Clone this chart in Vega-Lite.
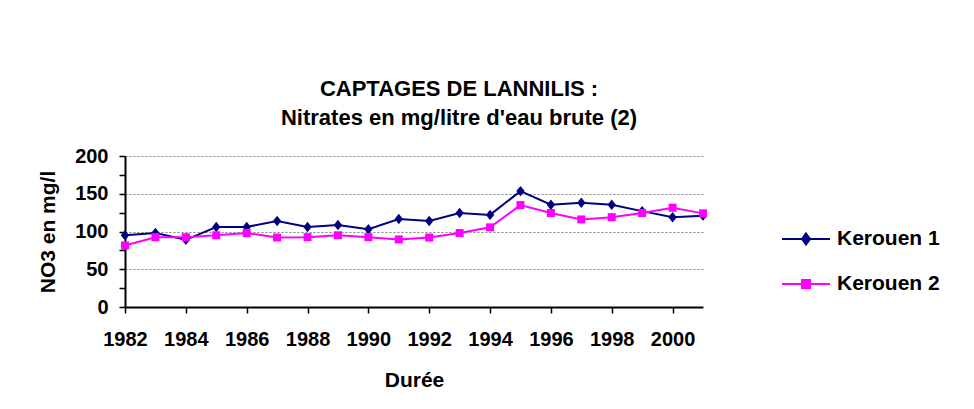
{
  "$schema": "https://vega.github.io/schema/vega-lite/v6.json",
  "width": 578,
  "height": 151,
  "autosize": {"type": "none"},
  "padding": {"left": 125, "top": 156, "right": 271, "bottom": 102},
  "background": "white",
  "config": {
    "font": "Liberation Sans",
    "view": {"stroke": null},
    "legend": {"padding": 0}
  },
  "title": {
    "text": ["CAPTAGES DE LANNILIS :", "Nitrates en mg/litre d'eau brute (2)"],
    "font": "Liberation Sans",
    "fontSize": 22,
    "fontWeight": "bold",
    "color": "black",
    "anchor": "middle",
    "dx": 45,
    "lineHeight": 29,
    "offset": 16
  },
  "data": {
    "values": [
      {"year": 1982, "series": "Kerouen 1", "value": 95},
      {"year": 1983, "series": "Kerouen 1", "value": 98},
      {"year": 1984, "series": "Kerouen 1", "value": 89},
      {"year": 1985, "series": "Kerouen 1", "value": 106},
      {"year": 1986, "series": "Kerouen 1", "value": 106},
      {"year": 1987, "series": "Kerouen 1", "value": 114},
      {"year": 1988, "series": "Kerouen 1", "value": 106},
      {"year": 1989, "series": "Kerouen 1", "value": 108.5},
      {"year": 1990, "series": "Kerouen 1", "value": 103},
      {"year": 1991, "series": "Kerouen 1", "value": 116.5},
      {"year": 1992, "series": "Kerouen 1", "value": 114},
      {"year": 1993, "series": "Kerouen 1", "value": 124.5},
      {"year": 1994, "series": "Kerouen 1", "value": 122},
      {"year": 1995, "series": "Kerouen 1", "value": 153.5},
      {"year": 1996, "series": "Kerouen 1", "value": 135.5},
      {"year": 1997, "series": "Kerouen 1", "value": 138},
      {"year": 1998, "series": "Kerouen 1", "value": 135.5},
      {"year": 1999, "series": "Kerouen 1", "value": 127},
      {"year": 2000, "series": "Kerouen 1", "value": 119},
      {"year": 2001, "series": "Kerouen 1", "value": 121},
      {"year": 1982, "series": "Kerouen 2", "value": 81.5},
      {"year": 1983, "series": "Kerouen 2", "value": 92.5},
      {"year": 1984, "series": "Kerouen 2", "value": 92.5},
      {"year": 1985, "series": "Kerouen 2", "value": 95},
      {"year": 1986, "series": "Kerouen 2", "value": 98},
      {"year": 1987, "series": "Kerouen 2", "value": 92},
      {"year": 1988, "series": "Kerouen 2", "value": 92.5},
      {"year": 1989, "series": "Kerouen 2", "value": 95},
      {"year": 1990, "series": "Kerouen 2", "value": 92.5},
      {"year": 1991, "series": "Kerouen 2", "value": 89.5},
      {"year": 1992, "series": "Kerouen 2", "value": 92},
      {"year": 1993, "series": "Kerouen 2", "value": 98},
      {"year": 1994, "series": "Kerouen 2", "value": 105.5},
      {"year": 1995, "series": "Kerouen 2", "value": 135},
      {"year": 1996, "series": "Kerouen 2", "value": 124.5},
      {"year": 1997, "series": "Kerouen 2", "value": 116},
      {"year": 1998, "series": "Kerouen 2", "value": 119},
      {"year": 1999, "series": "Kerouen 2", "value": 124.5},
      {"year": 2000, "series": "Kerouen 2", "value": 131.5},
      {"year": 2001, "series": "Kerouen 2", "value": 124}
    ]
  },
  "encoding": {
    "x": {
      "field": "year",
      "type": "quantitative",
      "scale": {"domain": [1982, 2001], "nice": false, "zero": false},
      "axis": {
        "title": "Durée",
        "values": [1982, 1984, 1986, 1988, 1990, 1992, 1994, 1996, 1998, 2000],
        "format": "d",
        "grid": false,
        "domainColor": "black",
        "domainWidth": 2,
        "tickColor": "black",
        "tickWidth": 1.5,
        "tickSize": 6,
        "labelFont": "Liberation Sans",
        "labelFontSize": 20,
        "labelFontWeight": "bold",
        "labelColor": "black",
        "labelPadding": 16,
        "labelFlush": false,
        "titleFont": "Liberation Sans",
        "titleFontSize": 21,
        "titleFontWeight": "bold",
        "titleColor": "black",
        "titlePadding": 20
      }
    },
    "y": {
      "field": "value",
      "type": "quantitative",
      "scale": {"domain": [0, 200], "nice": false},
      "axis": {
        "title": "NO3 en mg/l",
        "values": [0, 25, 50, 75, 100, 125, 150, 175, 200],
        "labelExpr": "datum.value % 50 === 0 ? datum.label : ''",
        "grid": true,
        "gridColor": "#808080",
        "gridDash": [2, 2],
        "gridWidth": 1,
        "gridOpacity": {"condition": {"test": "datum.value % 50 === 0 && datum.value > 0", "value": 1}, "value": 0},
        "domainColor": "black",
        "domainWidth": 2,
        "tickColor": "black",
        "tickWidth": 1.5,
        "tickSize": 6,
        "labelFont": "Liberation Sans",
        "labelFontSize": 20,
        "labelFontWeight": "bold",
        "labelColor": "black",
        "labelPadding": 11,
        "titleFont": "Liberation Sans",
        "titleFontSize": 21,
        "titleFontWeight": "bold",
        "titleColor": "black",
        "titlePadding": 16
      }
    }
  },
  "layer": [
    {
      "transform": [{"filter": "datum.series === 'Kerouen 1'"}],
      "mark": {"type": "line", "strokeWidth": 2, "clip": false, "color": "#000080"}
    },
    {
      "transform": [{"filter": "datum.series === 'Kerouen 2'"}],
      "mark": {"type": "line", "strokeWidth": 2, "clip": false, "color": "#FF00FF"}
    },
    {
      "transform": [{"filter": "datum.series === 'Kerouen 1'"}],
      "mark": {"type": "point", "filled": true, "opacity": 1, "clip": false, "shape": "M0,-1.25L1,0L0,1.25L-1,0Z", "size": 70},
      "encoding": {
        "color": {
          "field": "series",
          "type": "nominal",
          "scale": {"domain": ["Kerouen 1", "Kerouen 2"], "range": ["#000080", "#FF00FF"]},
          "legend": {
            "title": null,
            "orient": "none",
            "legendX": 670,
            "legendY": 72,
            "symbolSize": 400,
            "symbolStrokeWidth": 2,
            "symbolOpacity": 1,
            "labelOffset": 20,
            "rowPadding": 24,
            "labelFont": "Liberation Sans",
            "labelFontSize": 21,
            "labelFontWeight": "bold",
            "labelColor": "black",
            "encode": {
              "symbols": {
                "update": {
                  "shape": {"signal": "datum.value === 'Kerouen 1' ? 'M-2.4,0H2.4M0,-0.55L0.4,0L0,0.55L-0.4,0Z' : 'M-2.4,0H2.4M-0.4,-0.4H0.4V0.4H-0.4Z'"},
                  "stroke": {"signal": "datum.value === 'Kerouen 1' ? '#000080' : '#FF00FF'"},
                  "strokeWidth": {"value": 2}
                }
              }
            }
          }
        }
      }
    },
    {
      "transform": [{"filter": "datum.series === 'Kerouen 2'"}],
      "mark": {"type": "point", "filled": true, "opacity": 1, "clip": false, "shape": "square", "size": 64},
      "encoding": {
        "color": {
          "field": "series",
          "type": "nominal",
          "scale": {"domain": ["Kerouen 1", "Kerouen 2"], "range": ["#000080", "#FF00FF"]},
          "legend": {
            "title": null,
            "orient": "none",
            "legendX": 670,
            "legendY": 72,
            "symbolSize": 400,
            "symbolStrokeWidth": 2,
            "symbolOpacity": 1,
            "labelOffset": 20,
            "rowPadding": 24,
            "labelFont": "Liberation Sans",
            "labelFontSize": 21,
            "labelFontWeight": "bold",
            "labelColor": "black",
            "encode": {
              "symbols": {
                "update": {
                  "shape": {"signal": "datum.value === 'Kerouen 1' ? 'M-2.4,0H2.4M0,-0.55L0.4,0L0,0.55L-0.4,0Z' : 'M-2.4,0H2.4M-0.4,-0.4H0.4V0.4H-0.4Z'"},
                  "stroke": {"signal": "datum.value === 'Kerouen 1' ? '#000080' : '#FF00FF'"},
                  "strokeWidth": {"value": 2}
                }
              }
            }
          }
        }
      }
    }
  ]
}
